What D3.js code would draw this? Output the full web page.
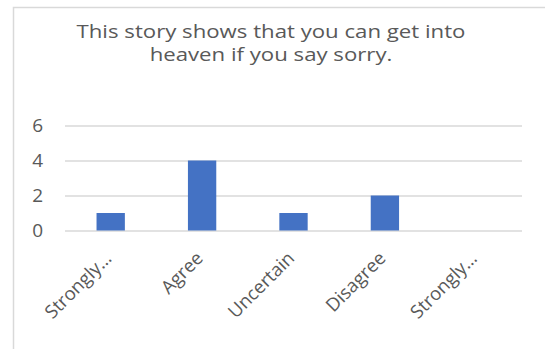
<!DOCTYPE html>
<html>
<head>
<meta charset="utf-8">
<script src="https://cdn.jsdelivr.net/npm/d3@7"></script>
<style>
  html, body { margin: 0; padding: 0; background: #fff; }
  svg { display: block; }
</style>
</head>
<body>
<svg id="chart" width="545" height="349"></svg>
<script>
// Survey responses for one statement
const categories = ["Strongly Agree", "Agree", "Uncertain", "Disagree", "Strongly Disagree"];
const tickLabels = ["Strongly…", "Agree", "Uncertain", "Disagree", "Strongly…"];
const counts = [1, 4, 1, 2, 0];
const yTicks = [0, 2, 4, 6];
const titleLines = ["This story shows that you can get into", "heaven if you say sorry."];

const FONT = "'Open Sans', 'Noto Sans', sans-serif";
const TEXT = "#595959";
const GRID = "#d9d9d9";
const BAR = "#4472c4";

const svg = d3.select("#chart");

// outer chart frame
svg.append("rect")
  .attr("x", 13.5).attr("y", 7.5)
  .attr("width", 600).attr("height", 400)
  .attr("fill", "#fff").attr("stroke", GRID).attr("stroke-width", 1.5);

// title, two lines, slightly widened letterforms
svg.append("g")
  .attr("transform", "translate(271,0) scale(1.2,1)")
  .selectAll("text")
  .data(titleLines)
  .join("text")
  .attr("x", 0)
  .attr("y", (d, i) => 38.5 + i * 23)
  .attr("text-anchor", "middle")
  .attr("font-family", FONT).attr("font-size", 18.5)
  .attr("fill", TEXT)
  .text(d => d);

const x = d3.scaleBand().domain(categories).range([65, 522]).padding(0);
const y = d3.scaleLinear().domain([0, 6]).range([230.5, 125.5]);

// gridlines + value labels
const yAxis = svg.append("g")
  .attr("transform", "translate(65,0)")
  .call(d3.axisLeft(y).tickValues(yTicks).tickSize(-(522 - 65)).tickPadding(22).tickFormat(d3.format("d")));
yAxis.select(".domain").remove();
yAxis.selectAll(".tick line").attr("stroke", GRID).attr("stroke-width", 1.5);
yAxis.selectAll(".tick text")
  .attr("font-family", FONT).attr("font-size", 19).attr("fill", TEXT);

// bars
const barW = x.bandwidth() * 0.31;
svg.append("g").selectAll("rect")
  .data(counts)
  .join("rect")
  .attr("x", (d, i) => x(categories[i]) + (x.bandwidth() - barW) / 2)
  .attr("y", d => y(d))
  .attr("width", barW)
  .attr("height", d => y(0) - y(d))
  .attr("fill", BAR);

// category labels, rotated
svg.append("g").selectAll("text")
  .data(categories)
  .join("text")
  .attr("transform", (d) => `translate(${x(d) + x.bandwidth() / 2 + 2},${y(0) + 29}) rotate(-45)`)
  .attr("text-anchor", "end")
  .attr("font-family", FONT).attr("font-size", 18.5).attr("fill", TEXT)
  .text((d, i) => tickLabels[i]);
</script>
</body>
</html>
